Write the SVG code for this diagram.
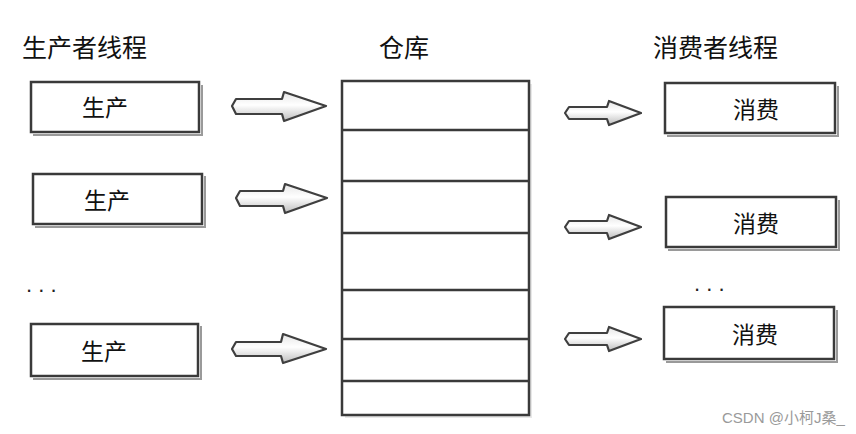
<svg xmlns="http://www.w3.org/2000/svg" width="856" height="434" viewBox="0 0 856 434">
<defs>
<style>
.t{font-family:"Noto Sans CJK SC","Noto Sans",sans-serif;fill:#111}
.title{font-size:25px}
.lbl{font-size:23px;text-anchor:middle}
.box{fill:#fff;stroke:#3a3a3a;stroke-width:2.5}
.sh{fill:none;stroke:#9a9a9a;stroke-width:2}
.arr{fill:url(#ag);stroke:#3f3f3f;stroke-width:2.2;stroke-linejoin:round}
.ln{stroke:#3a3a3a;stroke-width:2.5}
.dots{font-family:"Liberation Sans",sans-serif;font-size:22px;fill:#222}
</style>
<linearGradient id="ag" x1="0" y1="0" x2="0" y2="1">
<stop offset="0" stop-color="#e6e6e6"/>
<stop offset="0.45" stop-color="#ffffff"/>
<stop offset="1" stop-color="#bdbdbd"/>
</linearGradient>
</defs>
<rect width="856" height="434" fill="#fff"/>

<g id="titles">
<text class="t title" x="22" y="57">生产者线程</text>
<text class="t title" x="379" y="57">仓库</text>
<text class="t title" x="653" y="57">消费者线程</text>
</g>

<g id="producer1">
<polyline class="sh" points="33,135 202,135 202,85"/>
<rect class="box" x="31" y="82" width="168" height="50"/>
<text class="t lbl" x="105" y="116">生产</text>
</g>
<g id="producer2">
<polyline class="sh" points="35,227 205,227 205,176"/>
<rect class="box" x="33" y="174" width="169" height="50"/>
<text class="t lbl" x="107" y="209">生产</text>
</g>
<g id="producer-dots">
<text class="dots" x="26" y="292">. . .</text>
</g>
<g id="producer3">
<polyline class="sh" points="33,379 201,379 201,326"/>
<rect class="box" x="31" y="324" width="167" height="52"/>
<text class="t lbl" x="104" y="360">生产</text>
</g>

<g id="warehouse">
<rect x="345" y="84" width="187" height="334" fill="#e8e8e8"/>
<rect class="box" x="342" y="81" width="187" height="334"/>
<line class="ln" x1="343" y1="130" x2="528" y2="130"/>
<line class="ln" x1="343" y1="181" x2="528" y2="181"/>
<line class="ln" x1="343" y1="233" x2="528" y2="233"/>
<line class="ln" x1="343" y1="290" x2="528" y2="290"/>
<line class="ln" x1="343" y1="339" x2="528" y2="339"/>
<line class="ln" x1="343" y1="381" x2="528" y2="381"/>
</g>

<g id="consumer1">
<polyline class="sh" points="667,136 838,136 838,86"/>
<rect class="box" x="665" y="83" width="170" height="50"/>
<text class="t lbl" x="756" y="118">消费</text>
</g>
<g id="consumer2">
<polyline class="sh" points="668,250 839,250 839,200"/>
<rect class="box" x="666" y="197" width="170" height="50"/>
<text class="t lbl" x="756" y="232">消费</text>
</g>
<g id="consumer-dots">
<text class="dots" x="694" y="291">. . .</text>
</g>
<g id="consumer3">
<polyline class="sh" points="666,362 837,362 837,310"/>
<rect class="box" x="664" y="307" width="170" height="52"/>
<text class="t lbl" x="755" y="343">消费</text>
</g>

<g id="connectors">
<polygon class="arr" points="236,99 282,99 284,92 326,106 284,121 282,114 236,114 232,106"/>
<polygon class="arr" points="240,191 283,191 285,184 327,198 285,213 283,206 240,206 236,198"/>
<polygon class="arr" points="236,342 281,342 283,334 326,349 283,363 281,356 236,356 232,349"/>
<polygon class="arr" points="569,107 607,107 609,101 641,113 609,125 607,119 569,119 565,113"/>
<polygon class="arr" points="569,221 607,221 609,215 641,227 609,239 607,233 569,233 565,227"/>
<polygon class="arr" points="569,333 607,333 609,327 641,339 609,351 607,345 569,345 565,339"/>
</g>

<text x="722" y="423" font-family="Liberation Sans, Noto Sans CJK SC, sans-serif" font-size="15" fill="#9a9a9a">CSDN @小柯J桑_</text>
</svg>
